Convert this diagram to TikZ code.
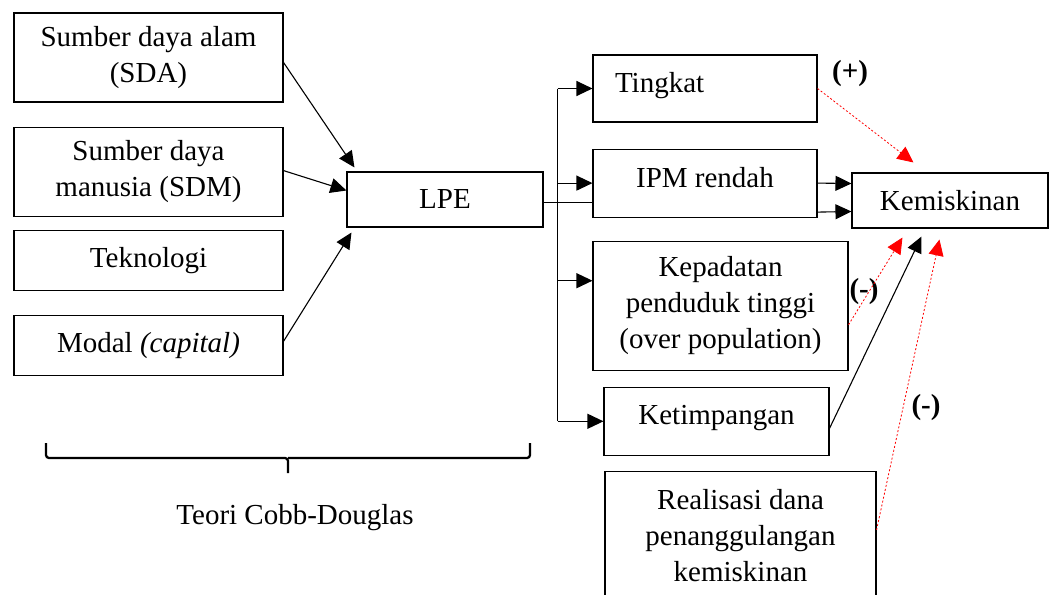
\documentclass[tikz,border=0pt]{standalone}
\usepackage{fontspec}
\setmainfont{Liberation Serif}
\usetikzlibrary{arrows.meta,positioning}

\begin{document}
\begin{tikzpicture}[->,>={Triangle[length=16pt,width=15pt]},x=1pt,y=-1pt,line width=1.1pt,
	font=\fontsize{29pt}{36pt}\selectfont]
	\tikzstyle{box}=[draw,align=center,inner sep=4pt]
	\tikzstyle{sign}=[red,line width=0.8pt,dash pattern=on 2pt off 2pt]
	\tikzstyle{brace}=[-,line width=2.3pt,rounded corners=3pt]
	\useasboundingbox (0,0) rectangle (1056,594);
	
	\node[box,minimum width=269pt,minimum height=89pt] (SDA) at (148.5,57.5) {Sumber daya alam\\(SDA)};
	\node[box,minimum width=269pt,minimum height=89pt] (SDM) [below=24pt of SDA] {Sumber daya\\manusia (SDM)};
	\node[box,minimum width=269pt,minimum height=60pt] (Tek) [below=13pt of SDM] {Teknologi};
	\node[box,minimum width=269pt,minimum height=60pt] (Mod) [below=24pt of Tek] {Modal \textit{(capital)}};
	
	\node[box,minimum width=196pt,minimum height=55pt] (LPE) at (445,199.5) {LPE};
	
	\node[box,minimum width=224pt,minimum height=67pt,text width=180pt,align=left,
		text height=20pt,text depth=12pt] (Tin) at (705,88.5) {Tingkat};
	\node[box,minimum width=224pt,minimum height=68pt,text height=20pt,text depth=11pt]
		(IPM) [below=26pt of Tin] {IPM rendah};
	\node[box,minimum width=255pt,minimum height=129pt] (Kep) [below=23pt of IPM.south west,anchor=north west]
		{Kepadatan\\penduduk tinggi\\(over population)};
	\node[box,minimum width=225pt,minimum height=68pt,text height=20pt,text depth=13pt]
		(Ket) [below=16pt of Kep.south west,anchor=north west,xshift=11pt] {Ketimpangan};
	\node[box,minimum width=271pt,minimum height=129pt] (Rea) [below=15pt of Ket.south west,anchor=north west,xshift=1pt]
		{Realisasi dana\\penanggulangan\\kemiskinan};
	
	\node[box,minimum width=196pt,minimum height=55pt] (Kem) at (950,200.5) {Kemiskinan};
	
	\node (plus) at (850,74) {\textbf{(+)}};
	\node (minA) at (864,292) {\textbf{(-)}};
	\node (minB) at (926,408) {\textbf{(-)}};
	
	\node (teori) at (295,518) {Teori Cobb-Douglas};
	\coordinate (bl) at (46,443);
	\coordinate (br) at (530,443);
	\coordinate (tip) at (288,473);
	\draw[brace] (bl) |- ([yshift=15pt]tip) -- (tip);
	\draw[brace] (br) |- ([yshift=15pt]tip);
	
	\path ([yshift=-5pt]SDA.east) edge ([xshift=8pt,yshift=4pt]LPE.north west)
	([yshift=1pt]SDM.east) edge ([yshift=9pt]LPE.west)
	([yshift=4pt]Mod.east) edge ([xshift=5pt,yshift=-5pt]LPE.south west);
	
	\coordinate (out) at ([yshift=-3pt]LPE.east);
	\coordinate (trunk) at ([xshift=14pt]out);
	\coordinate (kepin) at ([yshift=25pt]Kep.west);
	\draw[-] (out) -- (out -| IPM.west);
	\draw[-] (trunk |- Tin.west) -- (trunk |- Ket.west);
	\path (trunk |- Tin.west) edge (Tin.west)
	(trunk |- IPM.west) edge (IPM.west)
	(trunk |- kepin) edge (kepin)
	(trunk |- Ket.west) edge (Ket.west);
	
	\path (IPM.east) edge ([yshift=17pt]Kem.west)
	([yshift=-29pt]IPM.east) edge ([yshift=-11pt]Kem.west)
	([yshift=-7pt]Ket.east) edge ([xshift=70pt,yshift=-8pt]Kem.south west);
	\path[sign] (Tin.east) edge ([xshift=62pt,yshift=10pt]Kem.north west)
	([yshift=-19pt]Kep.east) edge ([xshift=51pt,yshift=-9pt]Kem.south west)
	([yshift=6pt]Rea.east) edge ([xshift=88pt,yshift=-11pt]Kem.south west);
\end{tikzpicture}
\end{document}
